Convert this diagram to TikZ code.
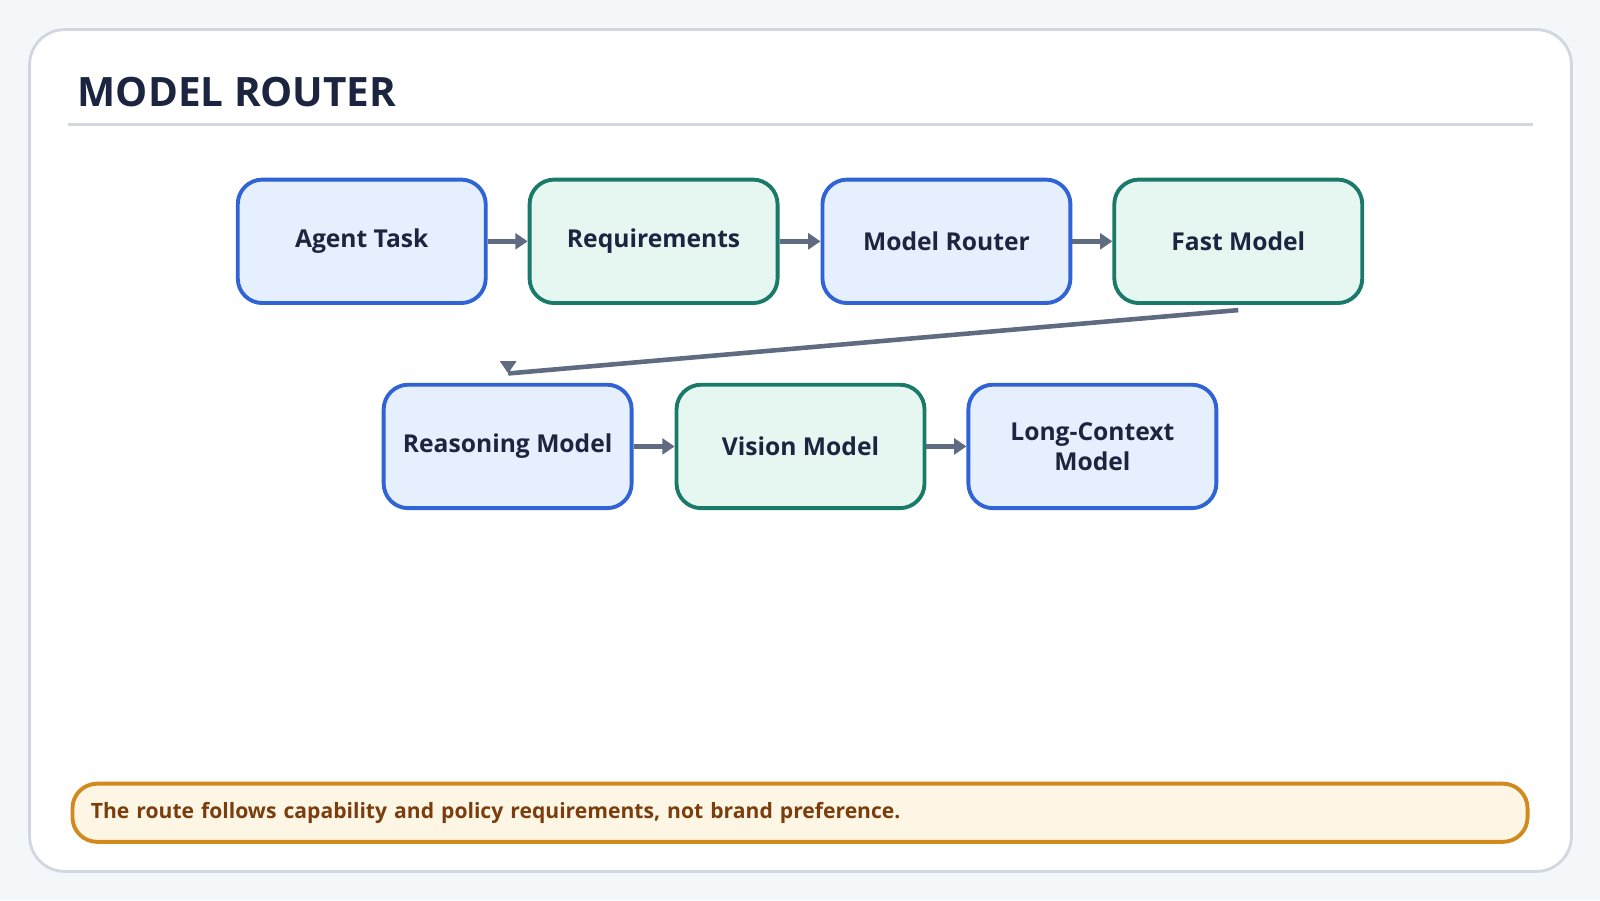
\documentclass[tikz,border=0pt]{standalone}
\usepackage{fontspec}
\setmainfont{Open Sans}
\usetikzlibrary{arrows.meta,calc}
\definecolor{pagebg}{HTML}{F4F7FA}
\definecolor{cardline}{HTML}{D0D7E0}
\definecolor{titleink}{HTML}{1B2540}
\definecolor{blueline}{HTML}{2F63D6}
\definecolor{bluefill}{HTML}{E6EFFD}
\definecolor{greenline}{HTML}{1A7A6A}
\definecolor{greenfill}{HTML}{E6F6F0}
\definecolor{arrowgray}{HTML}{5F6B80}
\definecolor{notefill}{HTML}{FEF6E4}
\definecolor{noteline}{HTML}{D08A1E}
\definecolor{noteink}{HTML}{7A3E0E}
\begin{document}
\begin{tikzpicture}[x=0.0102cm,y=-0.0102cm,
stepbox/.style={draw,rounded corners=7pt,line width=1.1pt,minimum width=243*0.0102cm,minimum height=121*0.0102cm,
  align=center,font=\fontsize{7}{8.5}\selectfont\bfseries,text=titleink},
bluebox/.style={stepbox,draw=blueline,fill=bluefill},
greenbox/.style={stepbox,draw=greenline,fill=greenfill},
flow/.style={-{Triangle[length=3.5pt,width=4.5pt]},line width=1.3pt,draw=arrowgray}]

% page and card
\fill[pagebg] (0,0) rectangle (1568,882);
\useasboundingbox (0,0) rectangle (1568,882);
\draw[cardline,fill=white,line width=0.8pt,rounded corners=10pt] (29,29) rectangle (1540,854);
\node[anchor=west,text=titleink,font=\fontsize{11.5}{13}\selectfont\bfseries] (title) at (64,90) {MODEL ROUTER};
\draw[cardline,line width=0.8pt] (67,122) -- (1502,122);

% first row
\node[bluebox] (task) at (354.5,236.5) {Agent Task};
\node[greenbox] (req) at (640.5,236.5) {Requirements};
\node[bluebox] (router) at (927.5,236.5) {Model Router};
\node[greenbox] (fast) at (1213.5,236.5) {Fast Model};

% second row
\node[bluebox] (reason) at (497.5,437.5) {Reasoning Model};
\node[greenbox] (vision) at (784.5,437.5) {Vision Model};
\node[bluebox] (long) at (1070.5,437.5) {Long-Context\\Model};

\draw[flow] (task) -- (req);
\draw[flow] (req) -- (router);
\draw[flow] (router) -- (fast);
\coordinate (turn) at (498,366);
\draw[arrowgray,line width=1.3pt] ([yshift=-5*0.0102cm]fast.south) -- (turn);
\draw[flow] ($(turn)+(0,-10)$) -- (turn);
\draw[flow] (reason) -- (vision);
\draw[flow] (vision) -- (long);

% note
\node[draw=noteline,fill=notefill,line width=1.1pt,rounded corners=7pt,minimum width=1426*0.0102cm,
  minimum height=57*0.0102cm,text width=1390*0.0102cm,align=left,text=noteink,
  font=\fontsize{6}{7}\selectfont\bfseries] (note) at (784,796.5)
  {The route follows capability and policy requirements, not brand preference.};
\end{tikzpicture}
\end{document}
